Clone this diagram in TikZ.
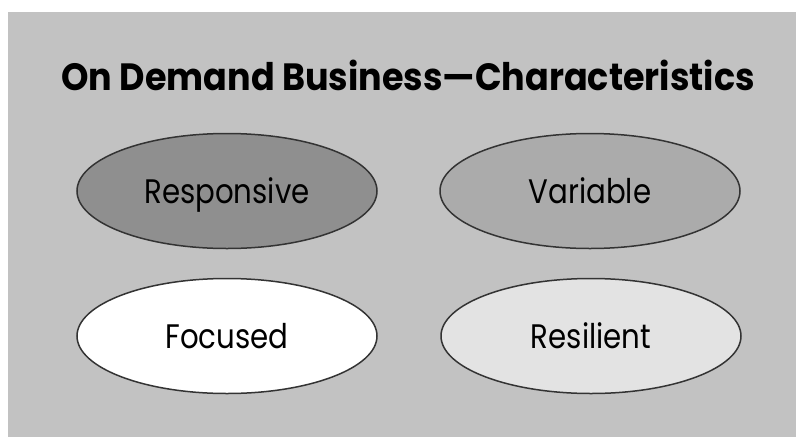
\documentclass[tikz,border=0pt]{standalone}
\usepackage{fontspec}
\setmainfont{Poppins}
\newfontfamily\headfont[FakeStretch=0.92]{Poppins}
\newfontfamily\ovalfont[FakeStretch=0.86]{Poppins}
\usetikzlibrary{shapes}
\definecolor{bggray}{gray}{0.76}
\definecolor{darkfill}{gray}{0.56}
\definecolor{midfill}{gray}{0.67}
\definecolor{lightfill}{gray}{0.89}
\definecolor{rimgray}{gray}{0.2}
\tikzstyle{heading}=[
	anchor=base,
	inner sep=0pt,
	font=\headfont\fontsize{38}{40}\selectfont\bfseries
]
\tikzstyle{oval}=[
	ellipse,
	draw=rimgray,
	line width=1.5pt,
	minimum width=300pt,
	minimum height=115pt,
	inner sep=0pt,
	text height=24pt,
	text depth=0pt,
	font=\ovalfont\fontsize{34}{36}\selectfont
]

\begin{document}
\begin{tikzpicture}[x=1pt, y=-1pt]
\useasboundingbox (0,0) rectangle (796,437);
\fill[bggray] (8,12) rectangle (796,437);

\node[heading] at (408,90) (title) {On Demand Business—Characteristics};

\foreach \n/\x/\y/\col/\txt in {resp/227/191/darkfill/Responsive, var/590/191/midfill/Variable,
    foc/227/336/white/Focused, res/591/336/lightfill/Resilient}{
    \node[oval, fill=\col] at (\x,\y) (\n) {\txt};
}
\end{tikzpicture}
\end{document}
